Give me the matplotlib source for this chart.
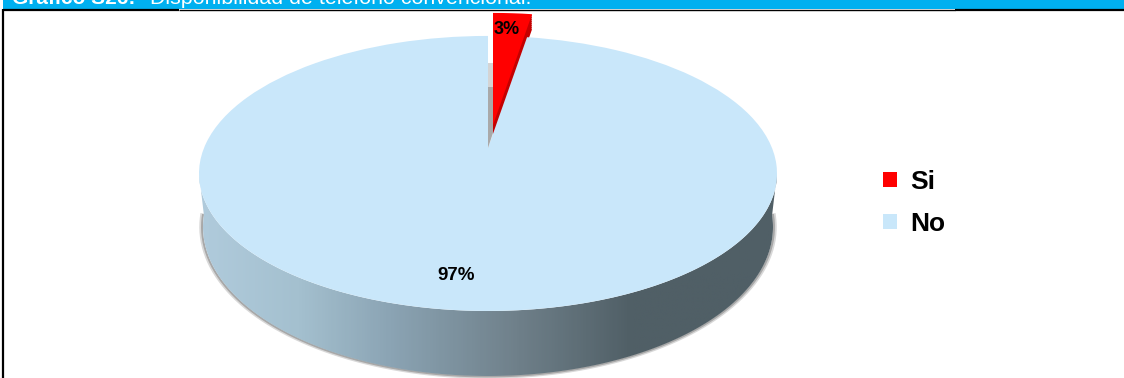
import numpy as np
import matplotlib
matplotlib.use("Agg")
import matplotlib.pyplot as plt
from matplotlib.colors import LinearSegmentedColormap
from matplotlib.patches import PathPatch, Polygon, Rectangle
from matplotlib.transforms import Affine2D, Transform

plt.rcParams['font.family'] = ['Liberation Sans', 'DejaVu Sans']

labels = ['Si', 'No']
# slice, the printed labels round these
values = [2.6, 97.4]
colors = ['#ff0000', '#c9e7fa']
title_bold = 'Gráfico S26:'
title_rest = 'Disponibilidad de teléfono convencional.'


# pie is tilted, so the centre of the slices is not the centre of the ellipse
class Tilt(Transform):
    input_dims = 2
    output_dims = 2

    def __init__(self, cx=488, cy=148, rx=284, ry=132.8, c=0.185):
        super().__init__()
        self.cx, self.cy, self.rx, self.ry, self.c = cx, cy, rx, ry, c

    def transform_non_affine(self, xy):
        xy = np.asarray(xy)
        w = 1 + self.c * xy[:, 1]
        return np.column_stack([self.cx + self.rx * xy[:, 0] / w,
                                self.cy - self.ry * xy[:, 1] / w])


fig = plt.figure(figsize=(11.24, 3.78), dpi=100)
ax = fig.add_axes([0, 0, 1, 1])
wedges, _ = ax.pie(values, colors=colors, startangle=90, counterclock=False,
                   wedgeprops={'linewidth': 0})
ax.set_aspect('auto')
ax.set_xlim(0, 1124)
ax.set_ylim(378, 0)
ax.axis('off')

tilt = Tilt()
wedges[1].set_transform(tilt + ax.transData)
wedges[1].set_zorder(3)
wedges[0].set_transform(tilt + Affine2D().translate(5, -23) + ax.transData)
wedges[0].set_zorder(6)

# cut wall of the pulled out slice, copies stacked downwards, the blue slice hides most of it
for dy in range(-22, -7, 2):
    ax.add_patch(PathPatch(wedges[0].get_path(), facecolor='#c40000', linewidth=0, zorder=2.5,
                           transform=tilt + Affine2D().translate(5, dy) + ax.transData))

# shadow strip beside the gap
ax.add_patch(Polygon([(488, 63), (493, 63), (493, 87), (488, 87)], facecolor='#d4d4d4', linewidth=0, zorder=4))
ax.add_patch(Polygon([(488, 87), (493, 87), (493, 133), (488, 148)], facecolor='#a9a9a9', linewidth=0, zorder=4))

# side wall of the pie
t = np.linspace(0, np.pi, 200)
t_low = np.linspace(-0.08, np.pi + 0.08, 200)
top_x = 488 + 289 * np.cos(t)
top_y = 173.5 + 137.5 * np.sin(t)
low_x = 488 + 285 * np.cos(t_low)
low_y = 227 + 149 * np.sin(t_low)
wall_xy = np.vstack([np.column_stack([top_x, top_y]), np.column_stack([low_x, low_y])[::-1]])
wall = Polygon(wall_xy, closed=True, facecolor='none', edgecolor='none', transform=ax.transData)
ax.add_patch(wall)
wall_cmap = LinearSegmentedColormap.from_list('wall', [(0, '#b0cbdc'), (0.17, '#a4c0cf'), (0.33, '#8ba4b4'),
                                                       (0.55, '#6f808a'), (0.75, '#505f66'), (1, '#505f66')])
im = ax.imshow(np.linspace(0, 1, 300)[None, :], cmap=wall_cmap, extent=(199, 777, 378, 170),
               aspect='auto', zorder=2)
im.set_clip_path(wall)
ax.plot(488 + 287 * np.cos(t_low), 227 + 150 * np.sin(t_low), color='#d8d8d8', lw=2.5, zorder=1)
ax.plot(488 + 286 * np.cos(t_low), 227 + 149.5 * np.sin(t_low), color='#a8a8a8', lw=1.4, zorder=1.5)
ax.set_xlim(0, 1124)
ax.set_ylim(378, 0)

# header bar
ax.add_patch(Rectangle((3, 0), 1121, 9, facecolor='#00b0f0', linewidth=0, zorder=7))
ax.text(12, 4, title_bold, color='white', fontsize=15, fontweight='bold', va='baseline', zorder=8)
ax.text(150, 4, title_rest, color='white', fontsize=15.4, va='baseline', zorder=8)
ax.plot([3, 179], [10, 10], color='black', lw=1.6, solid_capstyle='butt', zorder=8)
ax.plot([179, 955], [9.5, 9.5], color='black', lw=1, solid_capstyle='butt', zorder=8)
ax.plot([955, 1124], [10, 10], color='black', lw=1.6, solid_capstyle='butt', zorder=8)
ax.plot([2.5, 2.5], [9, 378], color='black', lw=1.6, solid_capstyle='butt', zorder=8)

# value labels
ax.text(507, 29, f'{values[0]:.0f}%', fontsize=13, fontweight='bold', ha='center', va='center', zorder=9)
ax.text(456, 275, f'{values[1]:.0f}%', fontsize=13.5, fontweight='bold', ha='center', va='center', zorder=9)

leg = ax.legend(wedges, labels, loc='upper left', bbox_to_anchor=(875.5 / 1124, 1 - 162 / 378), frameon=False,
                prop={'size': 19, 'weight': 'bold'}, handlelength=0.5, handleheight=0.5,
                handletextpad=0.5, labelspacing=0.68, borderpad=0.3, borderaxespad=0)
leg.set_zorder(9)

fig.savefig('out.png', dpi=100)
